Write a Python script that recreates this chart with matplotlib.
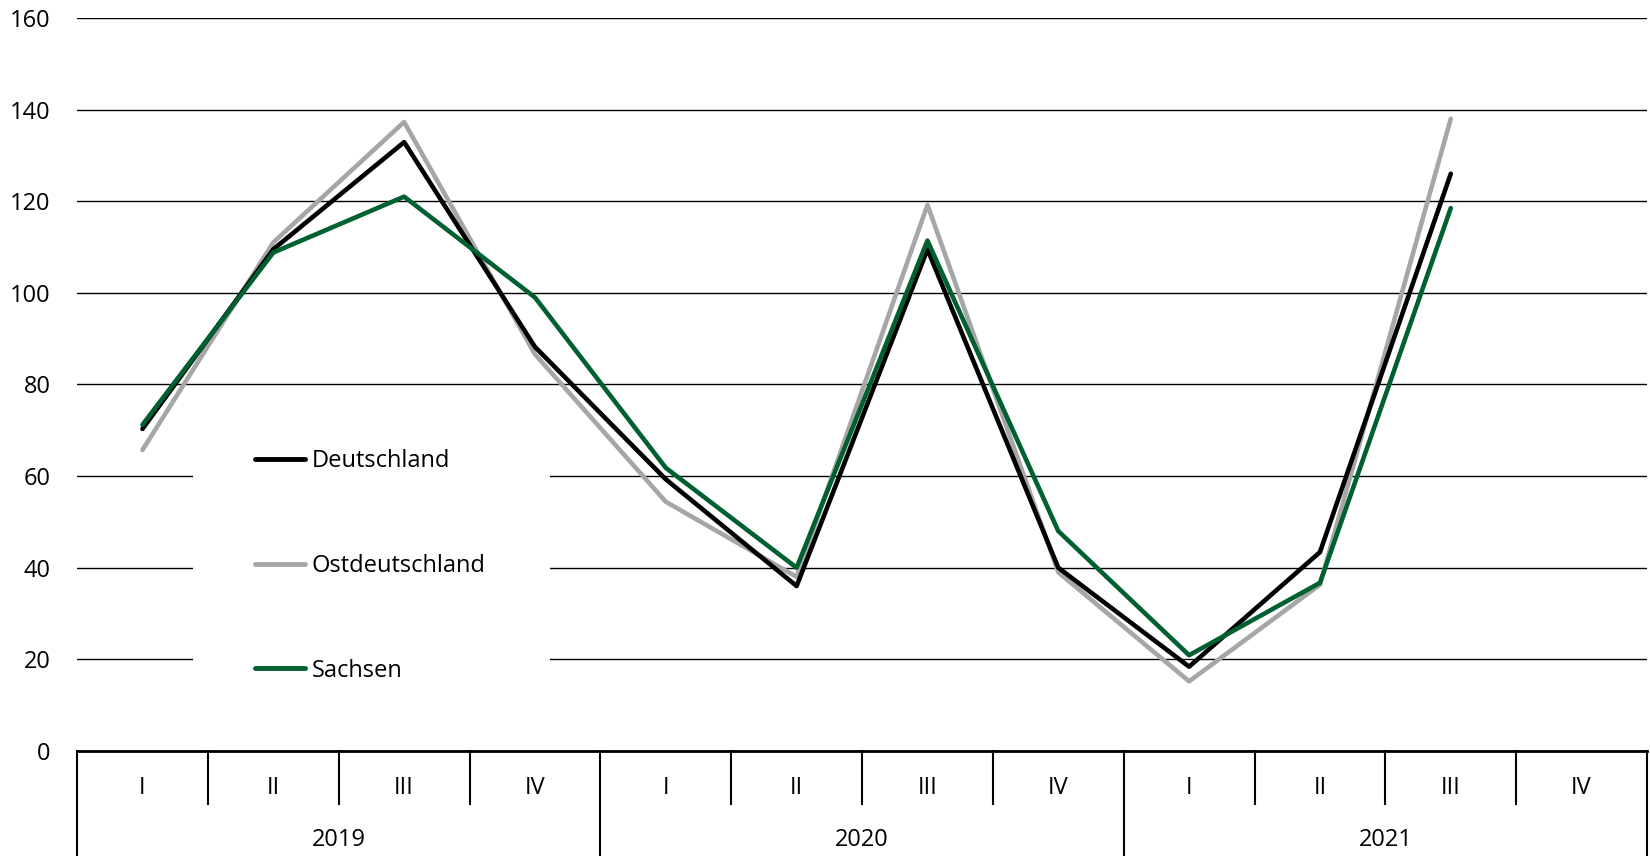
import matplotlib.pyplot as plt
import matplotlib.patches as patches
import numpy as np

plt.rcParams['font.family'] = ['Open Sans', 'DejaVu Sans']

quarters = ["I", "II", "III", "IV"] * 3
years = ["2019", "2020", "2021"]

deutschland = [70.3, 109.5, 132.9, 88.2, 59.3, 36.0, 109.5, 40.0, 18.4, 43.4, 126.0]
ostdeutschland = [65.7, 111.0, 137.3, 86.6, 54.4, 38.0, 119.2, 39.0, 15.2, 36.3, 138.0]
sachsen = [71.2, 108.8, 121.0, 99.0, 61.8, 40.0, 111.4, 48.0, 20.9, 36.7, 118.5]

fig = plt.figure(figsize=(16.5, 8.56), dpi=100)
ax = fig.add_axes([0.0467, 0.1227, 0.9515, 0.8563])

x = np.arange(len(deutschland))
ax.plot(x, deutschland, color="#000000", lw=3.3, label="Deutschland", solid_capstyle="round", zorder=3)
ax.plot(x, ostdeutschland, color="#a6a6a6", lw=3.3, label="Ostdeutschland", solid_capstyle="round", zorder=2)
ax.plot(x, sachsen, color="#006030", lw=3.3, label="Sachsen", solid_capstyle="round", zorder=4)

ax.set_xlim(-0.5, len(quarters) - 0.5)
ax.set_ylim(0, 160)
ax.set_yticks(np.arange(0, 161, 20))
ax.yaxis.grid(True, color="#000000", lw=1)
ax.set_axisbelow(True)
ax.tick_params(axis="y", length=0, pad=19, labelsize=17)
ax.set_xticks([])
for s in ["top", "right", "left"]:
    ax.spines[s].set_visible(False)
ax.spines["bottom"].set_linewidth(2)

# white box behind legend hides the grid there
ax.add_patch(patches.Rectangle((0.074, 0.03), 0.227, 0.44, transform=ax.transAxes,
                               facecolor="white", edgecolor="none", zorder=1))

leg = ax.legend(loc="center left", bbox_to_anchor=(0.1134, 0.2525), frameon=False,
                fontsize=17, handlelength=2.1, handletextpad=0.3, labelspacing=3.42,
                borderpad=0, borderaxespad=0)
for h in leg.get_lines():
    h.set_solid_capstyle("round")
    h.set_linewidth(3.5)

# category axis
tr = ax.get_xaxis_transform()
for i in range(len(quarters) + 1):
    xs = i - 0.5
    if i % 4 == 0:
        ax.plot([xs, xs], [0, -0.145], transform=tr, color="black", lw=1.5, clip_on=False)
    else:
        ax.plot([xs, xs], [0, -0.072], transform=tr, color="black", lw=1.5, clip_on=False)
for i, q in enumerate(quarters):
    ax.text(i, -0.05, q, transform=tr, ha="center", va="center", fontsize=17)
for j, yr in enumerate(years):
    ax.text(4 * j + 1.5, -0.121, yr, transform=tr, ha="center", va="center", fontsize=17)

fig.savefig("out.png", dpi=100)
